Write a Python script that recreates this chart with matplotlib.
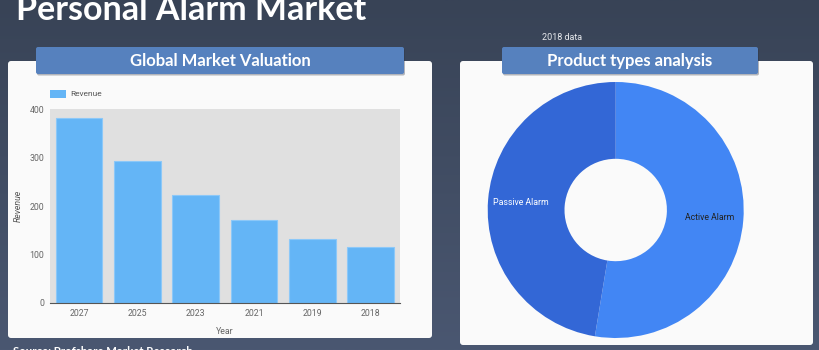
import numpy as np
import matplotlib
matplotlib.use("Agg")
import matplotlib.pyplot as plt
from matplotlib.patches import FancyBboxPatch
from matplotlib.colors import LinearSegmentedColormap

# ---- data ----
years = ["2027", "2025", "2023", "2021", "2019", "2018"]
revenue = [382, 293, 223, 172, 131, 115]
y_ticks = [0, 100, 200, 300, 400]

product_types = ["Active Alarm", "Passive Alarm"]
product_share = [52.6, 47.4]

W, H = 820, 350
fig = plt.figure(figsize=(W / 100, H / 100), dpi=100)


def rect(x0, y0, x1, y1):
    """Pixel box (top-left origin) -> figure fraction rect."""
    return [x0 / W, 1 - y1 / H, (x1 - x0) / W, (y1 - y0) / H]


# ---- background layer in pixel coordinates ----
bg = fig.add_axes([0, 0, 1, 1], zorder=-10)
bg.set_xlim(0, W)
bg.set_ylim(H, 0)
bg.axis("off")
grad = LinearSegmentedColormap.from_list("bg", ["#384356", "#4a5771"])
bg.imshow(np.linspace(0, 1, 256).reshape(-1, 1), cmap=grad, aspect="auto",
          extent=[0, W, H, 0], zorder=0)

# cards
for (x0, y0, x1, y1) in [(8, 61, 432, 338), (460, 61, 813, 345)]:
    bg.add_patch(FancyBboxPatch((x0, y0), x1 - x0, y1 - y0,
                                boxstyle="round,pad=0,rounding_size=3",
                                fc="#fafafa", ec="none", zorder=1))

# header bars
headers = [((36, 47, 404, 74), "Global Market Valuation"),
           ((502, 47, 758, 74), "Product types analysis")]
for (x0, y0, x1, y1), label in headers:
    bg.add_patch(FancyBboxPatch((x0 + 1, y0 + 1.5), x1 - x0, y1 - y0,
                                boxstyle="round,pad=0,rounding_size=2",
                                fc="#2c3444", ec="none", alpha=0.35, zorder=2))
    bg.add_patch(FancyBboxPatch((x0, y0), x1 - x0, y1 - y0,
                                boxstyle="round,pad=0,rounding_size=2",
                                fc="#5681be", ec="none", zorder=3))
    bg.text((x0 + x1) / 2, (y0 + y1) / 2 + 0.5, label, color="white",
            fontsize=12, fontweight="bold", family="Lato",
            ha="center", va="center", zorder=4)

# page title and captions
bg.text(16, 20, "Personal Alarm Market", color="white", fontsize=24.5,
        fontweight="bold", family="Lato", ha="left", va="baseline", zorder=4)
bg.text(542, 37, "2018 data", color="#e8eaee", fontsize=6.5,
        family="Roboto", ha="left", va="center", zorder=4)
bg.text(13, 355, "Source: Profshare Market Research", color="white",
        fontsize=8.2, fontweight="bold", family="Lato",
        ha="left", va="baseline", zorder=4)

# legend for bar chart
bg.add_patch(plt.Rectangle((50, 89.5), 16, 8, fc="#64b5f6", ec="none", zorder=4))
bg.text(70, 94, "Revenue", color="#555555", fontsize=6, family="Roboto",
        ha="left", va="center", zorder=4)

# ---- bar chart ----
ax = fig.add_axes(rect(50, 109, 400, 303))
x = np.arange(len(years))
ax.bar(x, revenue, width=0.8, color="#64b5f6", edgecolor="#8cc8f8",
       linewidth=0.8, zorder=2)
ax.set_xlim(-0.5, len(years) - 0.5)
ax.set_ylim(0, 400)
ax.set_facecolor("#e0e0e0")
ax.set_xticks(x)
ax.set_xticklabels(years)
ax.set_yticks(y_ticks)
for side in ("top", "right", "left"):
    ax.spines[side].set_visible(False)
ax.spines["bottom"].set_color("#555555")
ax.spines["bottom"].set_linewidth(0.8)
ax.tick_params(axis="both", length=0, labelsize=6.3, labelcolor="#666666",
               pad=4)
for lbl in ax.get_xticklabels() + ax.get_yticklabels():
    lbl.set_family("Roboto")
ax.set_xlabel("Year", fontsize=6.3, color="#666666", family="Roboto",
              labelpad=7)
ax.set_ylabel("Revenue", fontsize=6.3, color="#555555", family="Roboto",
              style="italic", labelpad=5)

# ---- donut chart ----
cx, cy, r = 615.7, 210, 128
pax = fig.add_axes(rect(cx - r, cy - r, cx + r, cy + r))
wedges, _ = pax.pie(product_share, colors=["#4286f4", "#3367d6"],
                    startangle=90, counterclock=False, radius=1,
                    wedgeprops=dict(width=0.6, edgecolor="none"))
pax.set_xlim(-1, 1)
pax.set_ylim(-1, 1)
pax.set_aspect("equal")
pax.axis("off")
label_colors = ["#222222", "white"]
for w, name, col in zip(wedges, product_types, label_colors):
    mid = np.deg2rad((w.theta1 + w.theta2) / 2)
    pax.text(0.74 * np.cos(mid), 0.74 * np.sin(mid), name, color=col,
             fontsize=6.3, family="Roboto", ha="center", va="center")

fig.savefig("out.png", dpi=100)
